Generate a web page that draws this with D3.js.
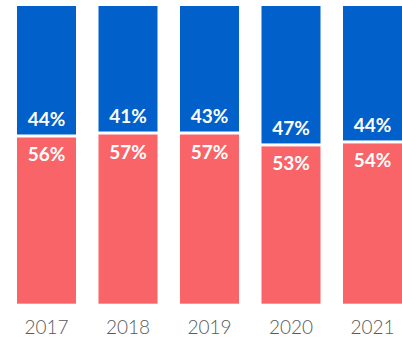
<!DOCTYPE html>
<html>
<head>
<meta charset="utf-8">
<script src="https://cdn.jsdelivr.net/npm/d3@7"></script>
<style>
  html, body { margin: 0; padding: 0; background: #fff; }
  svg { display: block; }
</style>
</head>
<body>
<svg id="chart" width="402" height="341"></svg>
<script>
// Survey share by year: the red segment sits at the base, blue fills the rest of each 100% column
const years = ["2017", "2018", "2019", "2020", "2021"];
const bluePct = [44, 41, 43, 47, 44];
const redPct = [56, 57, 57, 53, 54];

const W = 402, H = 341;
const blue = "#0160c9";
const red = "#f96468";

const svg = d3.select("#chart");

const x = d3.scaleBand()
  .domain(years)
  .range([17, 402])
  .paddingInner(0.276)
  .paddingOuter(0);

const y = d3.scaleLinear()
  .domain([0, 100])
  .range([303.7, 6]);

const rows = years.map((yr, i) => ({ year: yr, blue: bluePct[i], red: redPct[i] }));

const col = svg.selectAll("g.col")
  .data(rows)
  .join("g")
  .attr("class", "col");

// upper (blue) part: from the top of the column down to just above the red segment
col.append("rect")
  .attr("x", d => x(d.year))
  .attr("width", x.bandwidth())
  .attr("y", y(100))
  .attr("height", d => y(d.red) - 2.5 - y(100))
  .attr("fill", blue);

// lower (red) part
col.append("rect")
  .attr("x", d => x(d.year))
  .attr("width", x.bandwidth())
  .attr("y", d => y(d.red) + 0.5)
  .attr("height", d => y(0) - y(d.red) - 0.5)
  .attr("fill", red);

const labelFont = "Lato, 'Open Sans', sans-serif";

col.append("text")
  .attr("x", d => x(d.year) + x.bandwidth() / 2)
  .attr("y", d => y(d.red) - 11)
  .attr("text-anchor", "middle")
  .attr("font-family", labelFont)
  .attr("font-weight", 700)
  .attr("font-size", 19)
  .attr("fill", "#fff")
  .text(d => d.blue + "%");

col.append("text")
  .attr("x", d => x(d.year) + x.bandwidth() / 2)
  .attr("y", d => y(d.red) + 24.5)
  .attr("text-anchor", "middle")
  .attr("font-family", labelFont)
  .attr("font-weight", 700)
  .attr("font-size", 19)
  .attr("fill", "#fff")
  .text(d => d.red + "%");

// category axis along the bottom, without line or ticks
const xAxis = svg.append("g")
  .attr("transform", "translate(0,304)")
  .call(d3.axisBottom(x).tickSize(0).tickPadding(30));
xAxis.select(".domain").remove();
xAxis.selectAll("text")
  .attr("font-family", labelFont)
  .attr("font-weight", 300)
  .attr("font-size", 19)
  .attr("fill", "#5a5a5a")
  .attr("dy", 0);
</script>
</body>
</html>
